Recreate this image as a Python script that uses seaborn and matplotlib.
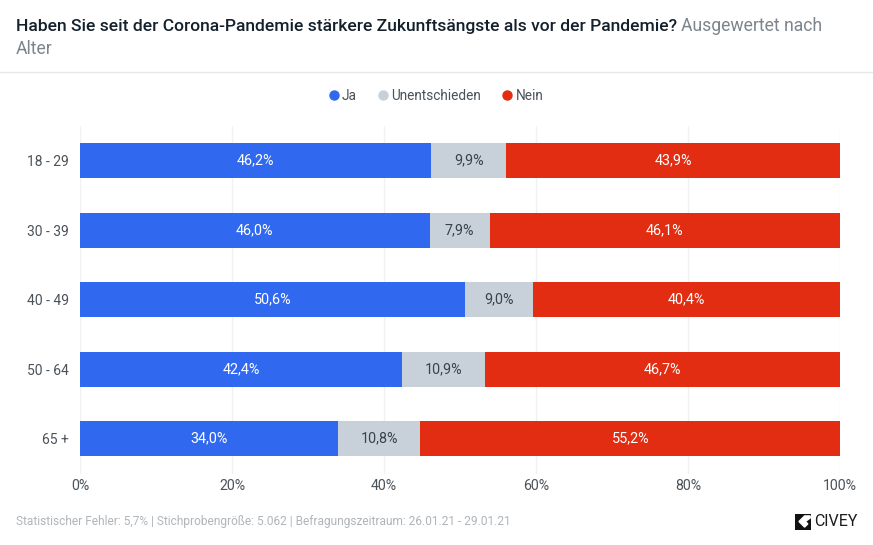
import matplotlib
matplotlib.use('Agg')
import matplotlib.pyplot as plt
from matplotlib.lines import Line2D
from matplotlib.patches import Polygon, Rectangle
import pandas as pd
import seaborn as sns

sns.set_theme(style="white")
plt.rcParams['font.family'] = ['Roboto', 'DejaVu Sans']

groups = ['18 - 29', '30 - 39', '40 - 49', '50 - 64', '65 +']
ja = [46.2, 46.0, 50.6, 42.4, 34.0]
unentschieden = [9.9, 7.9, 9.0, 10.9, 10.8]
nein = [43.9, 46.1, 40.4, 46.7, 55.2]
series_names = ['Ja', 'Unentschieden', 'Nein']
colors = ['#3069f0', '#c8d1d9', '#e22d12']
label_colors = ['white', '#3a424a', 'white']
x_ticks = [0, 20, 40, 60, 80, 100]

W, H = 873, 545
fig = plt.figure(figsize=(W / 100, H / 100), dpi=100)
ax = fig.add_axes([80 / W, 1 - 473.5 / H, 760 / W, 347.5 / H])

# gestapelt: jede Serie startet am Ende der vorherigen
left = [0] * len(groups)
for name, values, color, lc in zip(series_names, [ja, unentschieden, nein], colors, label_colors):
    df = pd.DataFrame({'Alter': groups, 'Wert': values})
    before = len(ax.containers)
    sns.barplot(data=df, x='Wert', y='Alter', orient='h', color=color, saturation=1,
                width=0.5, left=left, linewidth=0, ax=ax, zorder=3)
    labels = [f'{v:.1f}%'.replace('.', ',') for v in values]
    ax.bar_label(ax.containers[before], labels=labels, label_type='center',
                 color=lc, fontsize=10.4, zorder=4)
    left = [a + b for a, b in zip(left, values)]

ax.set_xlim(0, 100)
ax.set_ylim(len(groups) - 0.5, -0.5)
ax.set_xlabel('')
ax.set_ylabel('')
ax.set_xticks(x_ticks)
ax.set_xticklabels([f'{t}%' for t in x_ticks])
ax.grid(axis='x', color='#f0f1f3', linewidth=1, zorder=0)
ax.grid(axis='y', visible=False)
for s in ax.spines.values():
    s.set_visible(False)
ax.tick_params(axis='x', length=0, pad=4, labelsize=10.2, labelcolor='#4a525a')
ax.tick_params(axis='y', length=0, pad=8, labelsize=10, labelcolor='#4a525a')

# Titel
title_y = 1 - 26 / H
t1 = fig.text(16 / W, title_y, 'Haben Sie seit der Corona-Pandemie stärkere Zukunftsängste als vor der Pandemie?',
              fontsize=12.6, fontweight='medium', color='#14202b', va='center')
fig.canvas.draw()
bb = t1.get_window_extent()
fig.text((bb.x1 + 4) / W, title_y, 'Ausgewertet nach', fontsize=12.7, color='#7c858d', va='center')
fig.text(16 / W, 1 - 49 / H, 'Alter', fontsize=12.7, color='#7c858d', va='center')
fig.add_artist(Line2D([0, 1], [1 - 72 / H] * 2, color='#e6e8ea', linewidth=1))

# Legende
handles = [Line2D([], [], marker='o', linestyle='', markersize=6.5, color=c) for c in colors]
fig.legend(handles, series_names, loc='center', bbox_to_anchor=(434.5 / W, 1 - 95.5 / H), ncol=3,
           frameon=False, fontsize=9.8, labelcolor='#4a525a', handletextpad=0.0,
           columnspacing=1.33, handlelength=1.2)

# Fusszeile
fig.text(16 / W, 1 - 521.5 / H,
         'Statistischer Fehler: 5,7% | Stichprobengröße: 5.062 | Befragungszeitraum: 26.01.21 - 29.01.21',
         fontsize=8.57, color='#b0b5ba', va='center')
fig.text(814 / W, 1 - 521.5 / H, 'CIVEY', fontsize=11.5, color='#1c1c1c', va='center', ha='left')

# Logo
logo = fig.add_axes([795 / W, 1 - 529.5 / H, 16 / W, 16 / H])
logo.set_xlim(0, 1)
logo.set_ylim(0, 1)
logo.axis('off')
logo.add_patch(Rectangle((0, 0), 1, 1, color='#111111'))
logo.add_patch(Polygon([(0.95, 0.85), (0.6, 0.85), (0.25, 0.5), (0.6, 0.15), (0.8, 0.35),
                        (0.65, 0.5), (0.95, 0.72)], color='white'))

fig.savefig('out.png', dpi=100)
